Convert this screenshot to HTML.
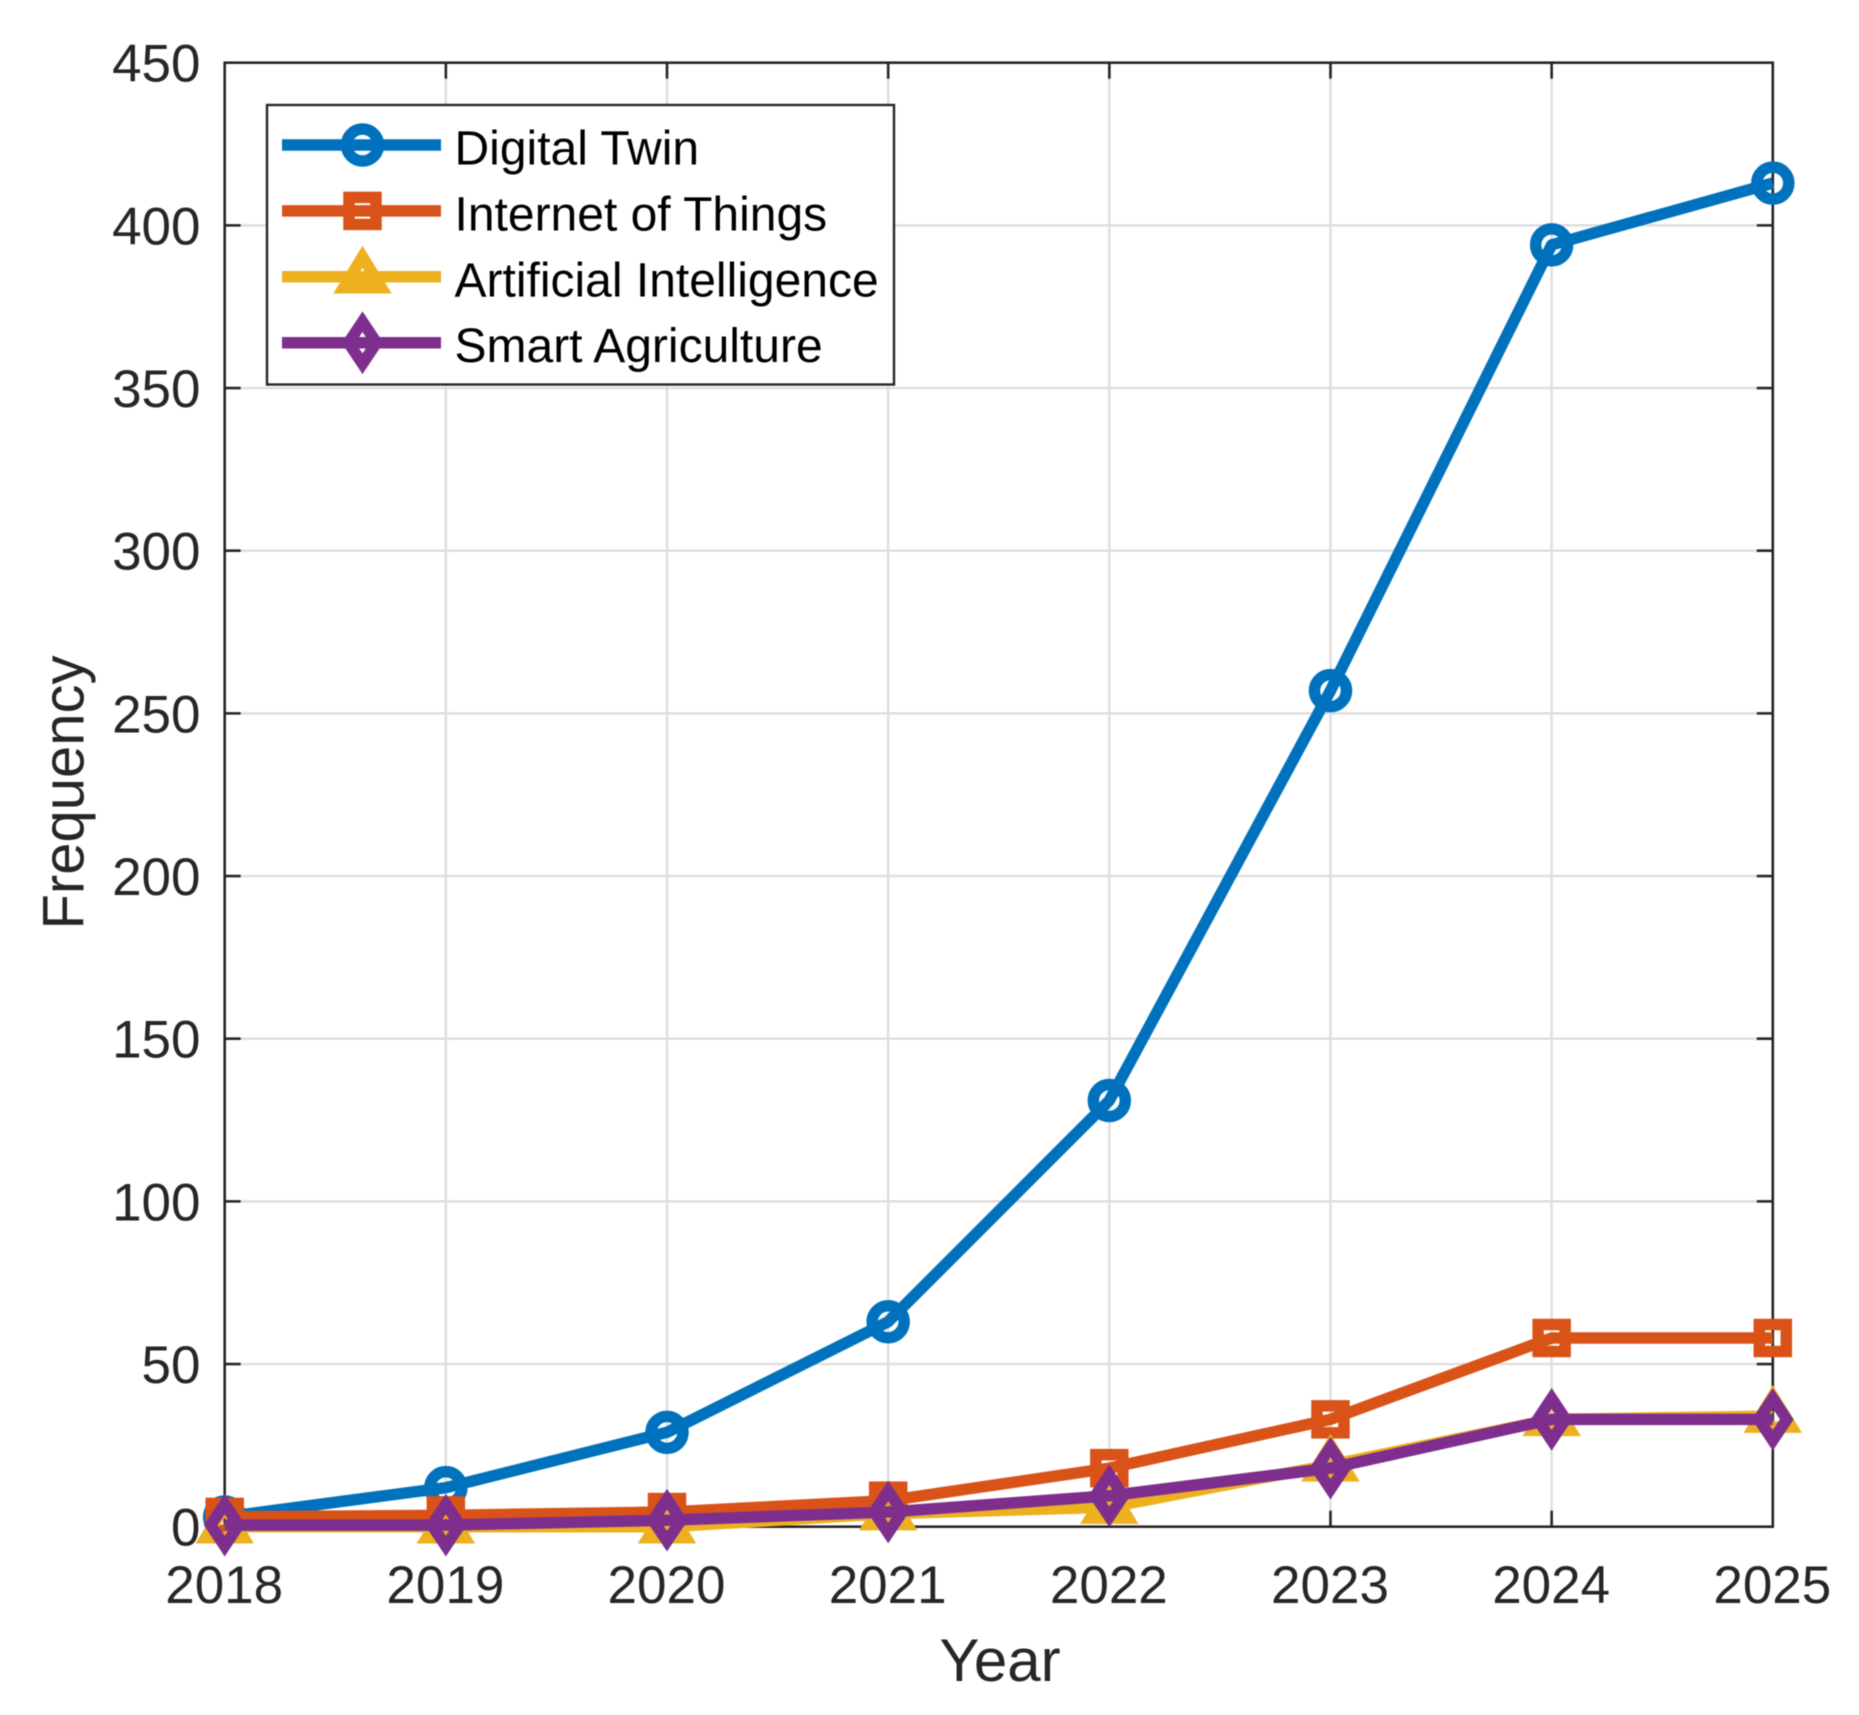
<!DOCTYPE html>
<html lang="en">
<head>
<meta charset="utf-8">
<title>Frequency by Year</title>
<style>
html,body{margin:0;padding:0;background:#fff;}
svg{display:block;filter:blur(0.6px);}
text{font-family:"Liberation Sans",Arial,sans-serif;}
</style>
</head>
<body>
<svg id="chart" xmlns="http://www.w3.org/2000/svg" width="1859" height="1715" viewBox="0 0 1859 1715"></svg>
<script>
const years = [2018, 2019, 2020, 2021, 2022, 2023, 2024, 2025];
const yTicks = [0, 50, 100, 150, 200, 250, 300, 350, 400, 450];
const digitalTwin = [3, 12, 29, 63, 131, 257, 394, 413];
const internetOfThings = [3, 3.5, 4.5, 8, 18, 33, 58, 58];
const artificialIntelligence = [0, 0, 0, 4, 6, 19, 33, 34];
const smartAgriculture = [0.5, 0.5, 2, 4.5, 9.5, 18, 33, 33];
const seriesNames = ["Digital Twin", "Internet of Things", "Artificial Intelligence", "Smart Agriculture"];

const svg = document.getElementById('chart');
const NS = 'http://www.w3.org/2000/svg';
const plot = {left: 224.7, right: 1772.8, top: 62.7, bottom: 1526.7};
const ink = '#262626';
const markW = 11.5;
const xScale = v => plot.left + (v - years[0]) / (years[years.length - 1] - years[0]) * (plot.right - plot.left);
const yScale = v => plot.bottom - (v - yTicks[0]) / (yTicks[yTicks.length - 1] - yTicks[0]) * (plot.bottom - plot.top);

function make(tag, attrs, parent) {
  const el = document.createElementNS(NS, tag);
  for (const k in attrs) el.setAttribute(k, attrs[k]);
  (parent || svg).appendChild(el);
  return el;
}
function marker(kind, cx, cy, color, parent) {
  const common = {fill: 'none', stroke: color, 'stroke-width': markW, 'stroke-miterlimit': 10};
  if (kind === 'circle') return make('circle', {cx: cx, cy: cy, r: 16, ...common}, parent);
  if (kind === 'square') return make('rect', {x: cx - 13.5, y: cy - 13.5, width: 27, height: 27, ...common}, parent);
  if (kind === 'triangle') return make('polygon', {points: `${cx},${cy - 20} ${cx + 19},${cy + 11} ${cx - 19},${cy + 11}`, ...common}, parent);
  return make('polygon', {points: `${cx},${cy - 21} ${cx + 14},${cy} ${cx},${cy + 21} ${cx - 14},${cy}`, ...common}, parent);
}

/* grid */
const grid = make('g', {stroke: '#dedede', 'stroke-width': 2.4, fill: 'none'});


years.slice(1, -1).forEach(y => {
  const g = make('line', {x1: xScale(y), x2: xScale(y), y1: plot.top, y2: plot.bottom}, grid);
  
  
});
yTicks.slice(1, -1).forEach(v => {
  const g = make('line', {x1: plot.left, x2: plot.right, y1: yScale(v), y2: yScale(v)}, grid);
  
  
});

/* axes box and ticks */
const axes = make('g', {stroke: ink, 'stroke-width': 2.6, fill: 'none'});


const box = make('rect', {x: plot.left, y: plot.top, width: plot.right - plot.left, height: plot.bottom - plot.top}, axes);


const tickLen = 16;
years.slice(1, -1).forEach(y => {
  make('line', {x1: xScale(y), x2: xScale(y), y1: plot.bottom, y2: plot.bottom - tickLen}, axes);
  make('line', {x1: xScale(y), x2: xScale(y), y1: plot.top, y2: plot.top + tickLen}, axes);
});
yTicks.slice(1, -1).forEach(v => {
  make('line', {x1: plot.left, x2: plot.left + tickLen, y1: yScale(v), y2: yScale(v)}, axes);
  make('line', {x1: plot.right, x2: plot.right - tickLen, y1: yScale(v), y2: yScale(v)}, axes);
});

/* tick labels */
years.forEach(y => {
  const t = make('text', {x: xScale(y) - 0.5, y: 1603, 'text-anchor': 'middle', 'font-size': 53, fill: ink});
  t.textContent = y;
  
  
});
yTicks.forEach(v => {
  const t = make('text', {x: 200.5, y: yScale(v) + 19, 'text-anchor': 'end', 'font-size': 53, fill: ink});
  t.textContent = v;
  
  
});

/* axis titles */
const xTitle = make('text', {x: 1000, y: 1681, 'text-anchor': 'middle', 'font-size': 60, fill: ink});
xTitle.textContent = 'Year';


const yTitle = make('text', {transform: 'translate(83.3 792.5) rotate(-90)', 'text-anchor': 'middle', 'font-size': 58, fill: ink});
yTitle.textContent = 'Frequency';



/* series */
const seriesColors = ['#0072bd', '#d95319', '#edb120', '#7e2f8e'];
const seriesMarkers = ['circle', 'square', 'triangle', 'diamond'];
[digitalTwin, internetOfThings, artificialIntelligence, smartAgriculture].forEach((vals, i) => {
  const g = make('g', {});
  
  
  const line = make('polyline', {
    points: vals.map((v, j) => xScale(years[j]) + ',' + yScale(v)).join(' '),
    fill: 'none', stroke: seriesColors[i], 'stroke-width': markW, 'stroke-linejoin': 'round'
  }, g);
  
  
  vals.forEach((v, j) => {
    const m = marker(seriesMarkers[i], xScale(years[j]), yScale(v), seriesColors[i], g);
    
    
  });
});

/* legend */
const legend = make('g', {});


const legendBox = make('rect', {x: 267, y: 105, width: 627, height: 279.5, fill: '#fff', stroke: ink, 'stroke-width': 2.4}, legend);


const rowGap = 65.9, rowStart = 145;
seriesNames.forEach((name, i) => {
  const cy = rowStart + i * rowGap;
  const row = make('g', {}, legend);
  
  
  make('line', {x1: 282, x2: 441, y1: cy, y2: cy, stroke: seriesColors[i], 'stroke-width': markW}, row);
  marker(seriesMarkers[i], 362.5, cy, seriesColors[i], row);
  const t = make('text', {x: 454.5, y: cy + 19.5, 'font-size': 48, fill: '#000'}, row);
  t.textContent = name;
});
</script>
</body>
</html>
